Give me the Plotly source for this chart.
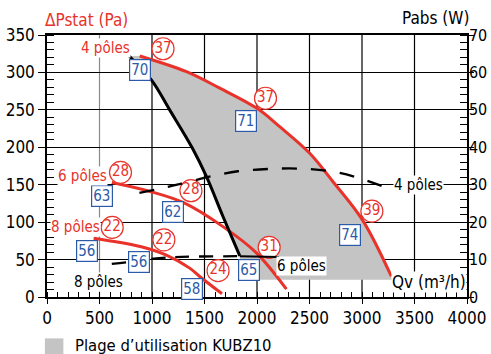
import plotly.graph_objects as go

# Pressure curves: Qv (m³/h) vs ΔPstat (Pa)
qv_4p = [883, 1328, 1645, 2000, 2216, 2502, 2724, 3004, 3280]
dp_4p = [322, 301, 279, 252, 227.6, 192, 154, 103, 27.4]
qv_6p = [617, 983, 1301, 1676, 1994, 2280]
dp_6p = [153, 141, 126, 94, 59, 10.5]
qv_8p = [444, 888, 1137, 1359, 1454, 1667]
dp_8p = [78.6, 67.5, 56, 38.6, 27.4, 4.3]

# Left limit of the operating range and its floor
qv_limit = [782, 994, 1168, 1384, 1518, 1676, 1836]
dp_limit = [322, 290, 250, 199, 161, 107.5, 55]
dp_floor = 23
qv_floor_end = 3290

# Absorbed power curves: Pabs (W)
qv_w4 = [880, 1150, 1300, 1556, 1817, 2103, 2406, 2697, 2933, 3197]
w_4p = [27.8, 29.4, 30.4, 32.2, 33.6, 34.2, 34.3, 33.6, 32.1, 29.6]
qv_w6 = [994, 1170, 1400, 1836]
w_6p = [10.2, 10.6, 10.8, 10.9]
qv_w8 = [617, 800, 994]
w_8p = [8.85, 9.4, 10.2]
qv_lead6 = [1836, 2210]
w_lead6 = [10.9, 10.7]

# Circled power values (W) along the pressure curves
pw_qv = [1105, 2081, 3094, 700, 1371, 2116, 621, 1113, 1629]
pw_dp = [331.6, 265.5, 114.7, 166.5, 142, 66.4, 93, 76.4, 35.2]
pw_txt = ["37", "37", "39", "28", "28", "31", "22", "22", "24"]

# Boxed sound levels
lw_qv = [890, 1899, 2886, 523, 1204, 1926, 378, 876, 1380]
lw_dp = [303, 235.5, 82.4, 135.4, 113, 36.7, 62, 46.3, 11.2]
lw_txt = ["70", "71", "74", "63", "62", "65", "56", "56", "58"]

# Curve names
red_lbl_txt = ["4 pôles", "6 pôles", "8 pôles"]
red_lbl_qv = [554, 335, 276]
red_lbl_dp = [332.3, 162, 93]
blk_lbl_txt = ["4 pôles", "6 pôles", "8 pôles"]
blk_lbl_qv = [3542, 2423, 494]
blk_lbl_dp = [150, 42, 19.6]

grid_qv = [500, 1000, 1500, 2000, 2500, 3000, 3500]
x_ticks = list(range(0, 4001, 500))
y_ticks = list(range(0, 351, 50))
w_ticks = list(range(0, 71, 10))

RED = "#e8322a"
BLUE = "#2b5ba8"
GRAY = "#c4c4c4"
FONT = "Liberation Sans Narrow, DejaVu Sans Condensed, sans-serif"

fig = go.Figure()

# Operating range polygon: along 4-pole curve, floor, then back up the limit curve
zone_x = [qv_limit[0]] + qv_4p + [qv_floor_end, qv_limit[-1]] + qv_limit[::-1]
zone_y = [dp_limit[0]] + dp_4p + [dp_floor, dp_floor] + dp_limit[::-1]
fig.add_trace(go.Scatter(x=zone_x, y=zone_y, fill="toself", fillcolor=GRAY,
                         mode="none", hoverinfo="skip"))

for qv, dp in [(qv_4p, dp_4p), (qv_6p, dp_6p), (qv_8p, dp_8p)]:
    fig.add_trace(go.Scatter(x=qv, y=dp, mode="lines",
                             line=dict(color=RED, width=3, shape="spline")))

fig.add_trace(go.Scatter(x=qv_limit, y=dp_limit, mode="lines",
                         line=dict(color="black", width=3, shape="spline")))

fig.add_trace(go.Scatter(x=qv_w4, y=w_4p, yaxis="y2", mode="lines",
                         line=dict(color="black", width=2.3, dash="15px,14px", shape="spline")))
fig.add_trace(go.Scatter(x=qv_w8, y=w_8p, yaxis="y2", mode="lines",
                         line=dict(color="black", width=2.3, dash="14px,10px", shape="spline")))
fig.add_trace(go.Scatter(x=qv_w6, y=w_6p, yaxis="y2", mode="lines",
                         line=dict(color="black", width=2.3, dash="14px,10px", shape="spline")))
fig.add_trace(go.Scatter(x=qv_lead6, y=w_lead6, yaxis="y2", mode="lines",
                         line=dict(color="black", width=2)))

fig.add_trace(go.Scatter(x=pw_qv, y=pw_dp, mode="markers+text", text=pw_txt,
                         textposition="middle center",
                         textfont=dict(color=RED, size=15, family=FONT),
                         marker=dict(symbol="circle", size=22, color="white",
                                     line=dict(color=RED, width=1.2))))

annotations = []
for q, p, t in zip(lw_qv, lw_dp, lw_txt):
    annotations.append(dict(x=q, y=p, xref="x", yref="y", text=t, showarrow=False,
                            font=dict(color=BLUE, size=15, family=FONT),
                            bgcolor="white", bordercolor=BLUE, borderwidth=1.2,
                            borderpad=1))
for q, p, t in zip(red_lbl_qv, red_lbl_dp, red_lbl_txt):
    annotations.append(dict(x=q, y=p, xref="x", yref="y", text=t, showarrow=False,
                            font=dict(color=RED, size=15, family=FONT),
                            bgcolor="white", borderpad=0))
for q, p, t in zip(blk_lbl_qv, blk_lbl_dp, blk_lbl_txt):
    annotations.append(dict(x=q, y=p, xref="x", yref="y", text=t, showarrow=False,
                            font=dict(color="black", size=15, family=FONT),
                            bgcolor="white", borderpad=0))
annotations += [
    dict(x=3635, y=19.6, xref="x", yref="y", text="Qv (m³/h)", showarrow=False,
         font=dict(color="black", size=17, family=FONT), bgcolor="white", borderpad=0),
    dict(x=0.0945, y=1.057, xref="paper", yref="paper", text="ΔPstat (Pa)",
         xanchor="center", yanchor="middle",
         showarrow=False, font=dict(color=RED, size=17, family=FONT)),
    dict(x=0.925, y=1.063, xref="paper", yref="paper", text="Pabs (W)",
         xanchor="center", yanchor="middle",
         showarrow=False, font=dict(color="black", size=17, family=FONT)),
    dict(x=0.0626, y=-0.187, xref="paper", yref="paper", text="Plage d’utilisation KUBZ10",
         xanchor="left", yanchor="middle", showarrow=False,
         font=dict(color="black", size=16.5, family=FONT)),
]

shapes = []
for g in grid_qv:
    shapes.append(dict(type="line", xref="x", yref="paper", x0=g, x1=g, y0=0, y1=1,
                       layer="between",
                       line=dict(color="#8a8a8a" if g == 500 else "black", width=1.2)))
shapes.append(dict(type="rect", xref="paper", yref="paper", x0=-0.005, x1=0.039,
                   y0=-0.23, y1=-0.158, fillcolor=GRAY, line=dict(width=0)))

tickfont = dict(size=17, color="black", family=FONT)
fig.update_layout(
    template="none",
    width=491, height=354,
    margin=dict(l=47, r=24, t=35, b=57),
    plot_bgcolor="white", paper_bgcolor="white",
    showlegend=False,
    font=dict(family=FONT),
    annotations=annotations,
    shapes=shapes,
    xaxis=dict(range=[0, 4000], tickvals=x_ticks, ticks="outside", ticklen=5,
               tickcolor="black", tickwidth=1.2, showline=True, linecolor="black",
               linewidth=1.5, mirror=True, showgrid=False, zeroline=False,
               automargin=False, tickfont=tickfont,
               minor=dict(dtick=100, ticks="inside", ticklen=5, tickcolor="black",
                          tickwidth=1, showgrid=False)),
    yaxis=dict(range=[0, 350], tickvals=y_ticks, ticks="outside", ticklen=7,
               tickcolor="black", tickwidth=1.2, showline=True, linecolor="black",
               linewidth=1.5, showgrid=True, gridcolor="black", gridwidth=1.2,
               zeroline=False, automargin=False, tickfont=tickfont,
               minor=dict(dtick=10, ticks="inside", ticklen=7, tickcolor="black",
                          tickwidth=1, showgrid=False)),
    yaxis2=dict(range=[0, 70], tickvals=w_ticks, overlaying="y", side="right",
                ticks="outside", ticklen=5, tickcolor="black", tickwidth=1.2,
                showline=True, linecolor="black", linewidth=1.5, showgrid=False,
                zeroline=False, automargin=False,
                tickfont=dict(size=16, color="black", family=FONT),
                ticklabelstandoff=-8,
                minor=dict(dtick=2, ticks="inside", ticklen=7, tickcolor="black",
                           tickwidth=1, showgrid=False)),
)

fig.write_html("out.html")
